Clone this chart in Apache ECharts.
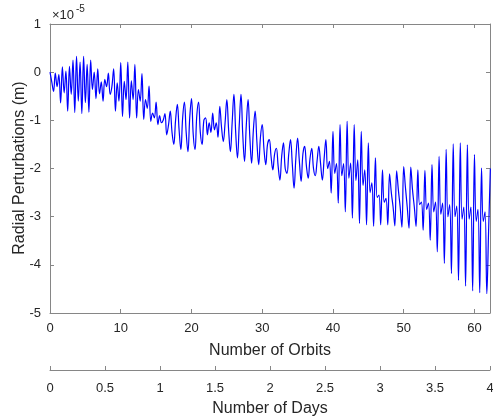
<!DOCTYPE html>
<html>
<head>
<meta charset="utf-8">
<script src="https://cdn.jsdelivr.net/npm/echarts@6/dist/echarts.min.js"></script>
<style>
html,body{margin:0;padding:0;background:#fff;}
#chart{width:493px;height:419px;}
</style>
</head>
<body>
<div id="chart"></div>
<script>
const samplesPerOrbit = 4;
const radialOrbits0to15 = [
  0, -0.2, -0.4, -0.02,
  -0.3, -0.05, -0.64, 0.11,
  -0.43, 0.02, -0.81, 0.12,
  -0.46, 0.25, -0.84, 0.33,
  -0.6, 0.21, -0.86, 0.33,
  -0.63, 0.16, -0.83, 0.25,
  -0.36, 0.0, -0.55, 0.07,
  -0.45, -0.2, -0.6, -0.15,
  -0.3, -0.02, -0.46, -0.3,
  0.07, -0.81, -0.22, -0.6,
  0.2, -0.92, -0.19, -0.57,
  0.21, -0.95, -0.18, -0.57,
  0.16, -0.95, -0.36, -0.6,
  -0.03, -0.98, -0.57, -0.75,
  -0.29, -1.02, -0.85, -0.95,
  -0.62, -1.09, -0.9, -1.05
];
const radialOrbits16to31 = [
  -1.0, -0.86, -1.3, -1.1,
  -0.81, -1.25, -1.5, -1.0,
  -0.67, -1.2, -1.61, -0.95,
  -0.62, -1.25, -1.65, -0.95,
  -0.55, -1.3, -1.61, -0.9,
  -0.62, -1.25, -1.5, -1.0,
  -0.95, -1.3, -1.05, -1.25,
  -0.85, -1.2, -1.05, -1.35,
  -0.71, -1.15, -1.44, -1.05,
  -0.57, -1.2, -1.65, -1.05,
  -0.46, -1.25, -1.78, -1.1,
  -0.46, -1.3, -1.85, -1.1,
  -0.57, -1.35, -1.89, -1.2,
  -0.81, -1.45, -1.92, -1.35,
  -1.09, -1.6, -1.92, -1.5,
  -1.4, -1.75, -2.03, -1.7
];
const radialOrbits32to47 = [
  -1.58, -1.95, -2.24, -1.75,
  -1.47, -2.0, -2.1, -1.7,
  -1.4, -1.9, -2.41, -1.8,
  -1.37, -1.85, -2.27, -1.7,
  -1.54, -1.95, -2.2, -1.8,
  -1.58, -2.0, -2.15, -1.85,
  -1.54, -1.9, -2.24, -1.8,
  -1.4, -2.0, -1.85, -2.51,
  -1.23, -2.1, -1.9, -2.72,
  -1.09, -2.15, -1.9, -2.9,
  -1.02, -2.2, -1.89, -3.03,
  -1.09, -2.25, -1.82, -3.14,
  -1.23, -2.35, -2.03, -3.17,
  -1.47, -2.5, -2.3, -3.2,
  -1.78, -2.6, -2.55, -3.17,
  -2.03, -2.7, -2.62, -3.17
];
const radialOrbits48to62 = [
  -2.11, -2.5, -2.8, -3.19,
  -2.05, -2.45, -2.8, -3.22,
  -1.96, -2.4, -2.8, -3.24,
  -1.97, -2.45, -2.8, -3.2,
  -2.03, -2.75, -2.7, -3.28,
  -2.04, -2.85, -2.72, -3.49,
  -1.92, -2.9, -2.7, -3.73,
  -1.75, -2.95, -2.72, -3.97,
  -1.6, -3.0, -2.75, -4.18,
  -1.49, -3.0, -2.78, -4.32,
  -1.47, -3.05, -2.8, -4.44,
  -1.51, -3.05, -2.8, -4.54,
  -1.71, -3.1, -2.85, -4.58,
  -1.99, -3.1, -2.9, -4.6,
  -3.3, -2.0
];
const orbitMax = 62.2;
const daysMax = 4;
const orbitTickStep = 10;
const dayTickStep = 0.5;
const yMin = -5, yMax = 1, yStep = 1;
const yExponent = '-5';
const yTitle = 'Radial Perturbations (m)';

const radial = [].concat(radialOrbits0to15, radialOrbits16to31, radialOrbits32to47, radialOrbits48to62);
const seriesData = radial.map((v, i) => [i / samplesPerOrbit, v]);

const axisGray = '#868686';
const textCol = '#262626';
const FONT = 'Liberation Sans, Arial, Helvetica, sans-serif';

const chart = echarts.init(document.getElementById('chart'), null, {renderer: 'canvas'});
const commonAxisLine = {show: true, onZero: false, lineStyle: {color: axisGray, width: 1}};
const tick = {show: true, inside: true, length: 4, lineStyle: {color: axisGray}};
chart.setOption({
  animation: false,
  backgroundColor: '#ffffff',
  grid: [
    {left: 50, right: 3, top: 24, bottom: 106, containLabel: false, outerBoundsMode: 'none'},
    {left: 50, right: 3, top: 300, height: 70, containLabel: false, outerBoundsMode: 'none'}
  ],
  xAxis: [
    {
      type: 'value', gridIndex: 0, position: 'bottom', min: 0, max: orbitMax, interval: orbitTickStep,
      axisLine: commonAxisLine, axisTick: tick,
      axisLabel: {show: true, color: textCol, fontFamily: FONT, fontSize: 13, margin: 9, showMaxLabel: false},
      splitLine: {show: false},
      name: 'Number of Orbits', nameLocation: 'middle', nameGap: 30,
      nameTextStyle: {color: textCol, fontFamily: FONT, fontSize: 16}
    },
    {
      type: 'value', gridIndex: 0, position: 'top', min: 0, max: orbitMax, interval: orbitTickStep,
      axisLine: commonAxisLine, axisTick: tick,
      axisLabel: {show: false}, splitLine: {show: false}
    },
    {
      type: 'value', gridIndex: 1, position: 'bottom', min: 0, max: daysMax, interval: dayTickStep,
      axisLine: commonAxisLine, axisTick: tick,
      axisLabel: {show: true, color: textCol, fontFamily: FONT, fontSize: 13, margin: 12},
      splitLine: {show: false},
      name: 'Number of Days', nameLocation: 'middle', nameGap: 31,
      nameTextStyle: {color: textCol, fontFamily: FONT, fontSize: 16}
    }
  ],
  yAxis: [
    {
      type: 'value', gridIndex: 0, position: 'left', min: yMin, max: yMax, interval: yStep,
      axisLine: commonAxisLine, axisTick: tick,
      axisLabel: {show: true, color: textCol, fontFamily: FONT, fontSize: 13, margin: 9},
      splitLine: {show: false}
    },
    {
      type: 'value', gridIndex: 0, position: 'right', min: yMin, max: yMax, interval: yStep,
      axisLine: commonAxisLine, axisTick: tick,
      axisLabel: {show: false}, splitLine: {show: false}
    },
    {
      type: 'value', gridIndex: 1, show: false, min: 0, max: 1
    }
  ],
  graphic: [
    {type: 'text', left: 52, top: 9, style: {text: '×10', fill: textCol, font: '13px ' + FONT}},
    {type: 'text', left: 76, top: 4, style: {text: yExponent, fill: textCol, font: '10px ' + FONT}},
    {type: 'text', x: 20, y: 168, rotation: Math.PI / 2,
      style: {text: yTitle, fill: textCol, font: '16px ' + FONT, align: 'center', verticalAlign: 'middle'}}
  ],
  series: [{
    type: 'line', xAxisIndex: 0, yAxisIndex: 0,
    data: seriesData, showSymbol: false, smooth: 0.4,
    lineStyle: {color: '#0000ff', width: 1.2},
    clip: true
  }]
});
</script>
</body>
</html>
